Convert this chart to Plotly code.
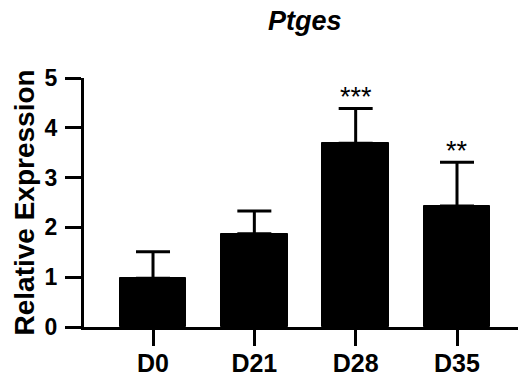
import plotly.graph_objects as go

categories = ["D0", "D21", "D28", "D35"]
means = [0.98, 1.87, 3.69, 2.43]
errors_up = [0.53, 0.46, 0.70, 0.88]
stars = ["", "", "***", "**"]
y_ticks = [0, 1, 2, 3, 4, 5]
title_text = "Ptges"
y_title = "Relative Expression"

FONT = "Liberation Sans, Arial, sans-serif"

fig = go.Figure()
fig.add_trace(go.Bar(
    x=list(range(len(categories))),
    y=means,
    width=0.66,
    marker=dict(color="black", line=dict(width=1, color="black")),
    error_y=dict(type="data", symmetric=False, array=errors_up,
                 arrayminus=[0] * len(means), color="black",
                 thickness=3, width=17),
    showlegend=False,
))

for i, (m, e, s) in enumerate(zip(means, errors_up, stars)):
    if s:
        fig.add_annotation(x=i, y=m + e, text=s, showarrow=False,
                           xref="x", yref="y", yanchor="bottom", yshift=-6,
                           font=dict(family=FONT, size=27, color="black"))

fig.add_annotation(x=0.509, y=1.228, xref="paper", yref="paper",
                   text="<b><i>" + title_text + "</i></b>", showarrow=False,
                   xanchor="center", yanchor="middle",
                   font=dict(family=FONT, size=27, color="black"))
fig.add_annotation(x=-0.136, y=0.5, xref="paper", yref="paper",
                   text="<b>" + y_title + "</b>", showarrow=False, textangle=-90,
                   xanchor="center", yanchor="middle",
                   font=dict(family=FONT, size=28, color="black"))

fig.update_layout(
    width=518, height=377,
    margin=dict(l=84, r=0, t=78, b=50),
    paper_bgcolor="white", plot_bgcolor="white",
    bargap=0,
)
fig.update_xaxes(
    range=[-0.681, 3.602], automargin=False,
    tickmode="array", tickvals=list(range(len(categories))), ticktext=categories,
    showline=True, linecolor="black", linewidth=3,
    ticks="outside", ticklen=16, tickwidth=3, tickcolor="black",
    showgrid=False, zeroline=False, ticklabelstandoff=-4,
    tickfont=dict(family=FONT, size=25, color="black", weight="bold"),
)
fig.update_yaxes(
    range=[0, 5], automargin=False,
    tickmode="array", tickvals=y_ticks,
    showline=True, linecolor="black", linewidth=3,
    ticks="outside", ticklen=16, tickwidth=3, tickcolor="black",
    showgrid=False, zeroline=False, ticklabelstandoff=3,
    tickfont=dict(family=FONT, size=23, color="black", weight="bold"),
)

fig.write_html("out.html")
